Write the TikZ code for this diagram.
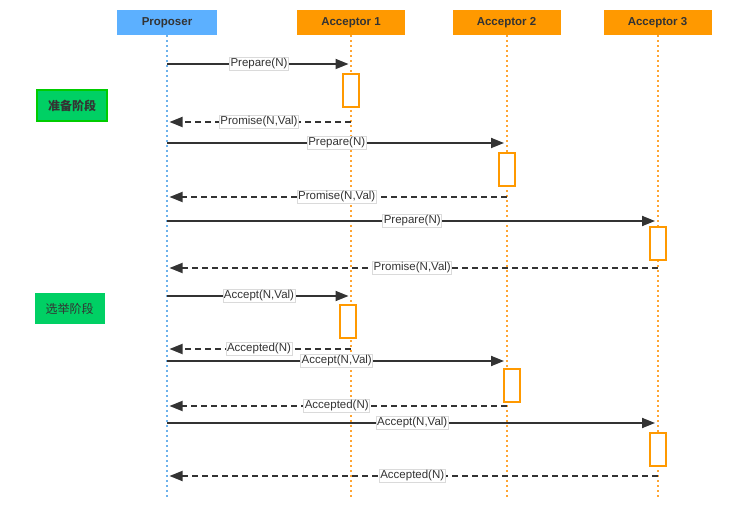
\documentclass[tikz,border=0pt]{standalone}
\usepackage{fontspec}
\setmainfont{Liberation Sans}
\newfontfamily\cjk{Noto Sans CJK SC}
\usetikzlibrary{calc, positioning, arrows.meta}
\definecolor{propBlue}{RGB}{92,176,255}
\definecolor{accOrange}{RGB}{255,153,0}
\definecolor{lifeBlue}{RGB}{110,178,235}
\definecolor{lifeOrange}{RGB}{255,165,50}
\definecolor{msgGray}{RGB}{51,51,51}
\definecolor{lblGray}{RGB}{218,218,218}
\definecolor{phaseGreen}{RGB}{0,208,100}
\definecolor{phaseEdge}{RGB}{0,204,0}
\definecolor{txtDark}{RGB}{51,51,51}
\tikzset{
  seqfig/.style={x=1pt, y=-1pt, font=\fontsize{11.5pt}{13pt}\selectfont, text=txtDark},
  headBox/.style={minimum height=25pt, inner sep=0pt, font=\fontsize{11.5pt}{13pt}\selectfont\bfseries},
  propHead/.style={headBox, fill=propBlue, minimum width=100pt},
  accHead/.style={headBox, fill=accOrange, minimum width=108pt},
  lifeP/.style={draw=lifeBlue, line width=2pt, dash pattern=on 2pt off 3pt},
  lifeA/.style={lifeP, draw=lifeOrange},
  call/.style={draw=msgGray, line width=1.8pt, -{Triangle[length=13pt, width=10pt]}, shorten >=2.5pt},
  reply/.style={call, dash pattern=on 6pt off 4pt},
  msgLbl/.style={fill=white, draw=lblGray, solid, line width=0.8pt, inner xsep=1pt, inner ysep=1.5pt},
  actBox/.style={draw=accOrange, fill=white, line width=2pt, minimum width=16pt, minimum height=33pt, inner sep=0pt},
  phaseBox/.style={fill=phaseGreen, minimum width=70pt, minimum height=31pt, inner sep=0pt,
    font=\cjk\fontsize{12pt}{14pt}\selectfont},
}
\def\LifeEnd{497}

\begin{document}
\begin{tikzpicture}[seqfig]
  \useasboundingbox (0,0) rectangle (744,521);

  % ----- participants -----
  \node[propHead] (hProp) at (167,22.5) {Proposer};
  \node[accHead] (hAcc1) at (351,22.5) {Acceptor 1};
  \node[accHead] (hAcc2) at (506.5,22.5) {Acceptor 2};
  \node[accHead] (hAcc3) at (657.5,22.5) {Acceptor 3};

  % lifelines
  \coordinate (lifeBot) at (0,\LifeEnd);
  \draw[lifeP] (hProp.south) -- (hProp |- lifeBot);
  \foreach \acc in {hAcc1, hAcc2, hAcc3}
    \draw[lifeA] (\acc.south) -- (\acc |- lifeBot);

  % ----- phase tags -----
  \node[phaseBox, draw=phaseEdge, line width=1.5pt, font=\cjk\fontsize{12pt}{14pt}\selectfont\bfseries]
    (prepTag) at (72,105.5) {准备阶段};
  \node[phaseBox] (voteTag) at (69.5,308.5) {选举阶段};

  % ----- activation boxes -----
  \node[actBox] (act1a) at (350.5,91) {};
  \node[actBox] (act2a) at (506.5,170) {};
  \node[actBox] (act3a) at (657.5,244) {};
  \node[actBox] (act1b) at (347.5,321) {};
  \node[actBox] (act2b) at (511.5,385) {};
  \node[actBox] (act3b) at (657.5,449) {};

  % ----- message rows -----
  \foreach \row/\yy in {1/64, 2/122, 3/143, 4/197, 5/221, 6/268,
                        7/296, 8/349, 9/361, 10/406, 11/423, 12/476}
    \coordinate (r\row) at (0,\yy);

  % prepare phase
  \draw[call] (hProp |- r1) -- (hAcc1 |- r1) node[msgLbl, midway] {Prepare(N)};
  \draw[reply] (hAcc1 |- r2) -- (hProp |- r2) node[msgLbl, midway] {Promise(N,Val)};
  \draw[call] (hProp |- r3) -- (hAcc2 |- r3) node[msgLbl, midway] {Prepare(N)};
  \draw[reply] (hAcc2 |- r4) -- (hProp |- r4) node[msgLbl, midway] {Promise(N,Val)};
  \draw[call] (hProp |- r5) -- (hAcc3 |- r5) node[msgLbl, midway] {Prepare(N)};
  \draw[reply] (hAcc3 |- r6) -- (hProp |- r6) node[msgLbl, midway] {Promise(N,Val)};

  % accept phase
  \draw[call] (hProp |- r7) -- (hAcc1 |- r7) node[msgLbl, midway] {Accept(N,Val)};
  \draw[reply] (hAcc1 |- r8) -- (hProp |- r8) node[msgLbl, midway] {Accepted(N)};
  \draw[call] (hProp |- r9) -- (hAcc2 |- r9) node[msgLbl, midway] {Accept(N,Val)};
  \draw[reply] (hAcc2 |- r10) -- (hProp |- r10) node[msgLbl, midway] {Accepted(N)};
  \draw[call] (hProp |- r11) -- (hAcc3 |- r11) node[msgLbl, midway] {Accept(N,Val)};
  \draw[reply] (hAcc3 |- r12) -- (hProp |- r12) node[msgLbl, midway] {Accepted(N)};
\end{tikzpicture}
\end{document}
